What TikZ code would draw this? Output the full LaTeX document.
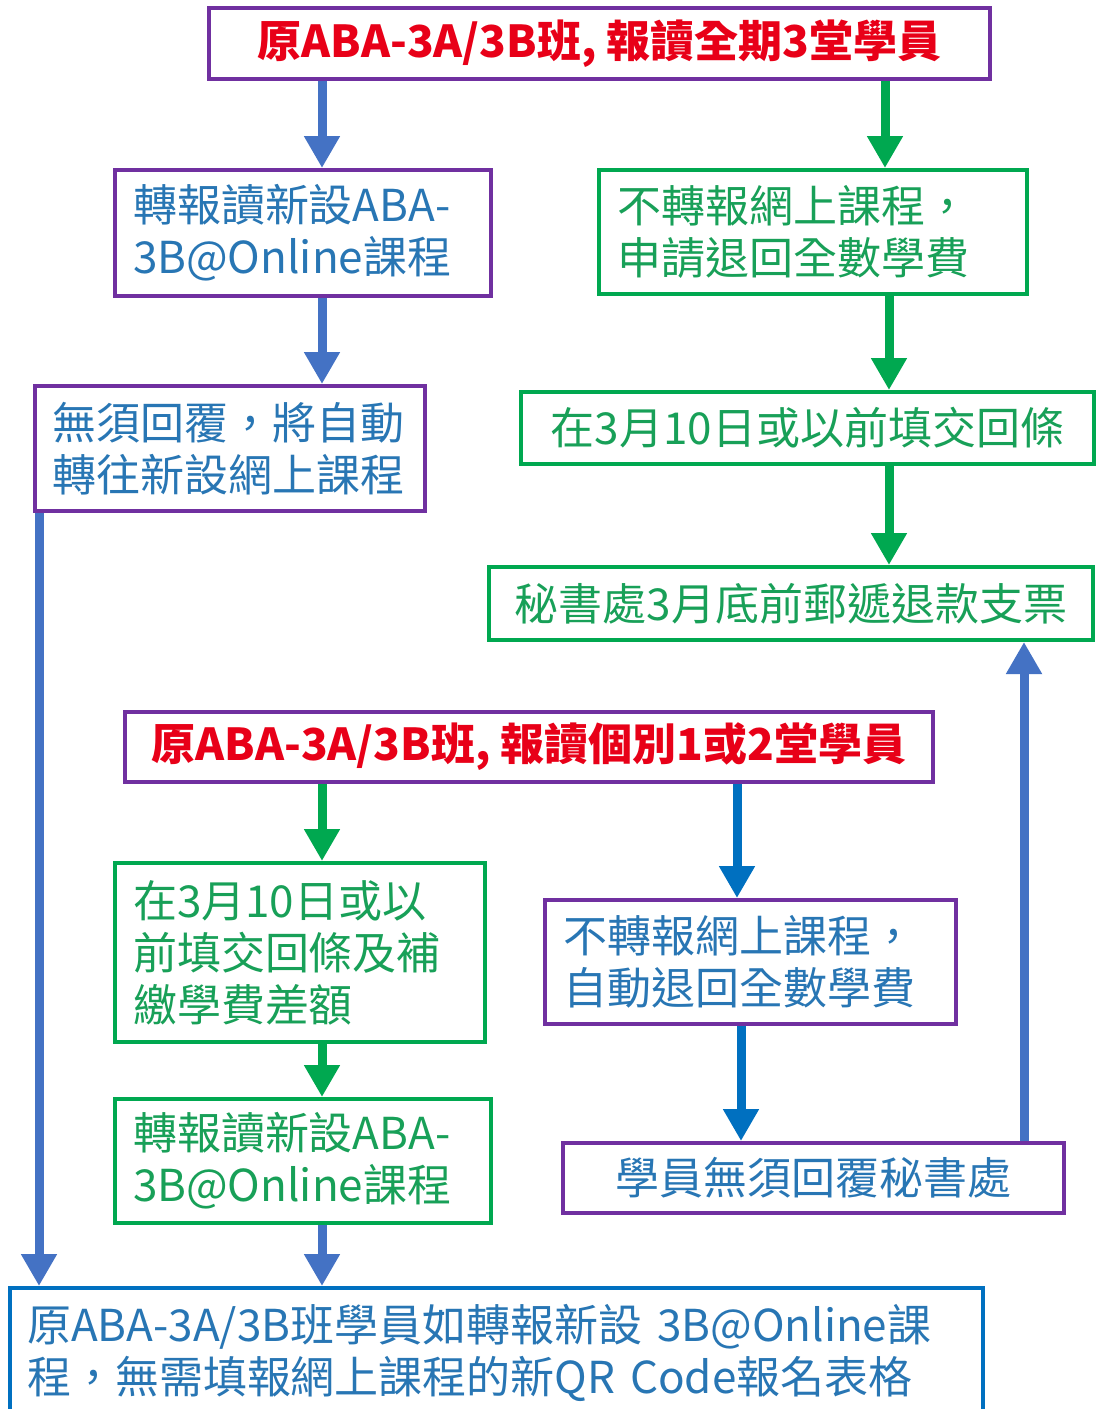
\documentclass[tikz,border=0pt]{standalone}
\usepackage{fontspec}
\setmainfont{Noto Sans CJK TC}
\usetikzlibrary{arrows.meta}
\definecolor{bpurple}{RGB}{112,48,160}
\definecolor{bgreen}{RGB}{0,168,80}
\definecolor{tgreen}{RGB}{24,160,88}
\definecolor{tblue}{RGB}{40,118,180}
\definecolor{tred}{RGB}{232,0,24}
\definecolor{ablue}{RGB}{68,114,196}
\definecolor{dblue}{RGB}{0,112,192}
\tikzset{
  box/.style={draw, line width=2pt, inner sep=0pt, font=\fontsize{22pt}{26pt}\selectfont},
  pbox/.style={box, draw=bpurple},
  gbox/.style={box, draw=bgreen, text=tgreen},
  lbox/.style={align=left},
  barrow/.style={draw=ablue, line width=4.5pt, -{Triangle[width=17pt,length=16pt]}},
  darrow/.style={draw=dblue, line width=4.5pt, -{Triangle[width=17pt,length=16pt]}},
  garrow/.style={draw=bgreen, line width=4.5pt, -{Triangle[width=17pt,length=16pt]}}
}
\begin{document}
\begin{tikzpicture}[x=0.5pt,y=-0.5pt]
\clip (0,0) rectangle (1096,1409);
\fill[white] (0,0) rectangle (1096,1409);
% nodes
\node[pbox, text=tred, font=\fontsize{22pt}{26pt}\selectfont\bfseries, minimum width=390.5pt, minimum height=35.5pt] (top) at (599.5,43.5) {原ABA-3A/3B班, 報讀全期3堂學員};
\node[pbox, text=tblue, lbox, minimum width=188pt, minimum height=63pt, text width=170pt] (A) at (303,233) {\mbox{轉報讀新設ABA-}\\\mbox{3B@Online課程}};
\node[gbox, lbox, minimum width=214pt, minimum height=62pt, text width=196pt] (B) at (813,232) {\mbox{不轉報網上課程，}\\\mbox{申請退回全數學費}};
\node[pbox, text=tblue, lbox, minimum width=195pt, minimum height=62.5pt, text width=177pt] (C) at (230,448.5) {\mbox{無須回覆，將自動}\\\mbox{轉往新設網上課程}};
\node[gbox, minimum width=286.5pt, minimum height=36pt] (D) at (807.5,428) {在3月10日或以前填交回條};
\node[gbox, minimum width=302pt, minimum height=36.5pt] (E) at (791,603.5) {秘書處3月底前郵遞退款支票};
\node[pbox, text=tred, font=\fontsize{22pt}{26pt}\selectfont\bfseries, minimum width=404pt, minimum height=35pt] (mid) at (529,747) {原ABA-3A/3B班, 報讀個別1或2堂學員};
\node[gbox, lbox, minimum width=185pt, minimum height=89.5pt, text width=167pt] (F) at (300,952.5) {\mbox{在3月10日或以}\\\mbox{前填交回條及補}\\\mbox{繳學費差額}};
\node[pbox, text=tblue, lbox, minimum width=205.5pt, minimum height=62pt, text width=187.5pt] (G) at (750.5,962) {\mbox{不轉報網上課程，}\\\mbox{自動退回全數學費}};
\node[gbox, lbox, minimum width=188pt, minimum height=62pt, text width=170pt] (H) at (303,1161) {\mbox{轉報讀新設ABA-}\\\mbox{3B@Online課程}};
\node[pbox, text=tblue, minimum width=250.5pt, minimum height=35pt] (I) at (813.5,1178) {學員無須回覆秘書處};
\node[box, draw=dblue, text=tblue, lbox, minimum width=486.5pt, minimum height=65pt, text width=469.5pt] (J) at (496.5,1353) {\mbox{原ABA-3A/3B班學員如轉報新設 3B@Online課}\\\mbox{程，無需填報網上課程的新QR Code報名表格}};
% arrow columns
\coordinate (xa) at (322,0);
\coordinate (xb) at (885,0);
\coordinate (xc) at (889,0);
\coordinate (xd) at (39,0);
\coordinate (xe) at (737,0);
\coordinate (xf) at (741,0);
\coordinate (xg) at (1024,0);
% arrows
\draw[barrow] (top.south -| xa) -- (A.north -| xa);
\draw[garrow] (top.south -| xb) -- (B.north -| xb);
\draw[barrow] (A.south -| xa) -- (C.north -| xa);
\draw[garrow] (B.south -| xc) -- (D.north -| xc);
\draw[garrow] (D.south -| xc) -- (E.north -| xc);
\draw[barrow] (C.south -| xd) -- (J.north -| xd);
\draw[garrow] (mid.south -| xa) -- (F.north -| xa);
\draw[darrow] (mid.south -| xe) -- (G.north -| xe);
\draw[garrow] (F.south -| xa) -- (H.north -| xa);
\draw[darrow] (G.south -| xf) -- (I.north -| xf);
\draw[barrow] (I.north -| xg) -- (E.south -| xg);
\draw[barrow] (H.south -| xa) -- (J.north -| xa);
\end{tikzpicture}
\end{document}
